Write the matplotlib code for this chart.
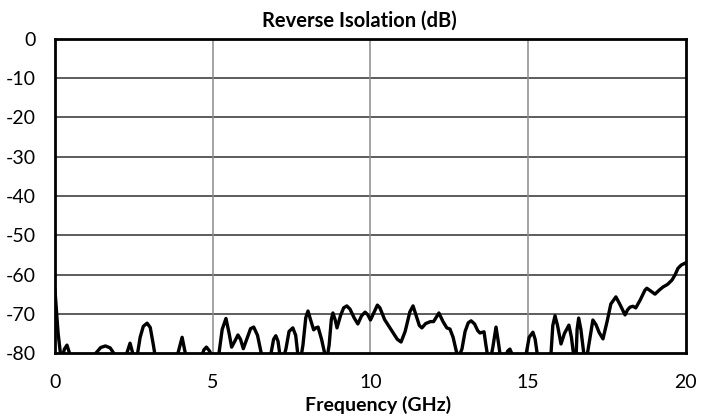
import matplotlib
matplotlib.use("Agg")
import matplotlib.pyplot as plt

plt.rcParams['font.family'] = ['Lato', 'DejaVu Sans']
plt.rcParams['axes.unicode_minus'] = False

# frequency (GHz) and reverse isolation (dB)
freq = [0.0, 0.1, 0.2, 0.3, 0.38, 0.46, 0.6, 1.0, 1.3, 1.45, 1.6, 1.75, 1.9,
        2.1, 2.28, 2.38, 2.48, 2.6, 2.7, 2.8, 2.92, 3.02, 3.12, 3.22, 3.6,
        3.9, 4.03, 4.13, 4.3, 4.6, 4.72, 4.8, 4.9, 5.05, 5.2, 5.3, 5.42,
        5.52, 5.6, 5.7, 5.8, 5.88, 5.97, 6.1, 6.2, 6.3, 6.42, 6.55, 6.7,
        6.85, 6.93, 7.0, 7.07, 7.13, 7.25, 7.32, 7.42, 7.54, 7.63, 7.7, 7.8,
        7.86, 7.95, 8.02, 8.1, 8.2, 8.27, 8.34, 8.45, 8.56, 8.63, 8.69, 8.76,
        8.81, 8.88, 8.94, 9.05, 9.15, 9.25, 9.35, 9.48, 9.6, 9.72, 9.83,
        9.92, 10.0, 10.12, 10.22, 10.3, 10.45, 10.65, 10.85, 10.97, 11.1,
        11.25, 11.35, 11.45, 11.55, 11.63, 11.75, 11.9, 12.0, 12.17, 12.3,
        12.42, 12.52, 12.62, 12.72, 12.8, 12.9, 13.0, 13.1, 13.19, 13.3,
        13.4, 13.47, 13.6, 13.66, 13.72, 13.82, 13.88, 13.98, 14.05, 14.12,
        14.25, 14.35, 14.42, 14.5, 14.7, 14.93, 15.03, 15.15, 15.22, 15.3,
        15.5, 15.72, 15.78, 15.85, 15.93, 16.04, 16.15, 16.29, 16.37, 16.44,
        16.52, 16.55, 16.6, 16.67, 16.76, 16.86, 16.96, 17.05, 17.15, 17.25,
        17.37, 17.5, 17.62, 17.78, 17.9, 18.07, 18.15, 18.23, 18.32, 18.41,
        18.55, 18.7, 18.76, 18.9, 19.02, 19.15, 19.27, 19.42, 19.56, 19.66,
        19.75, 19.85, 20.0]
s12 = [-64, -75, -82, -79, -78, -80, -84, -84, -80, -78.6, -78.2, -78.7, -80.5,
       -84, -80, -77.5, -80.5, -81, -76, -73.2, -72.4, -73.5, -78, -83, -85,
       -80, -76, -80, -84, -82, -79.2, -78.5, -79.5, -82, -80, -74, -71.2,
       -75, -78.5, -77, -75.4, -76.5, -78.9, -76, -73.8, -73.4, -75.5, -80.5, -84,
       -80, -76.5, -75.6, -77, -80.5, -81, -79, -74.5, -73.6, -75.5, -80.5, -81,
       -78, -71, -69.3, -71.5, -74.1, -73.6, -73.4, -76.5, -80.5, -81, -78, -71.5,
       -69.8, -71.5, -73.6, -70.5, -68.5, -68.0, -68.8, -71, -72.6, -70.5, -69.6,
       -70.3, -71.6, -69.5, -67.8, -68.5, -71.5, -74, -76.5, -77.2, -74.5,
       -69.5, -68, -70.5, -73, -73.6, -72.5, -72, -72, -69.8, -72,
       -73.6, -73.9, -76, -79.5, -81, -79, -74.5, -72.3, -71.8, -72.6,
       -74.3, -74.9, -74.6, -78, -81, -81, -78.5, -73.4, -77, -81,
       -81.5, -79.5, -79, -80.5, -85, -80.5, -76, -74.7, -76.5, -81,
       -84, -80.5, -73, -70.5, -73, -77.7, -75, -72.9, -76, -80.5,
       -80.5, -74, -71.1, -74, -80, -81, -76, -71.6, -72.8, -74.8,
       -76.4, -72, -67.5, -65.7, -67.5, -70.3, -69, -68.3, -68.1, -68.5,
       -66.5, -64, -63.5, -64.3, -65, -64, -63.2, -62.5, -61.4, -60,
       -58.4, -57.6, -57]

xticks = [0, 5, 10, 15, 20]
yticks = [0, -10, -20, -30, -40, -50, -60, -70, -80]

fig = plt.figure(figsize=(7.12, 4.18), dpi=100)
ax = fig.add_axes([0.0772, 0.1555, 0.8862, 0.7512])

ax.plot(freq, s12, color='black', lw=2.4, solid_joinstyle='round', zorder=3)

ax.set_xlim(0, 20)
ax.set_ylim(-80, 0)
ax.set_xticks(xticks)
ax.set_yticks(yticks)
ax.tick_params(length=0, labelsize=14)
ax.tick_params(axis='x', pad=15)
ax.tick_params(axis='y', pad=14)

for v in yticks[1:-1]:
    ax.axhline(v, color='#303030', lw=1.1, zorder=1)
for v in xticks[1:-1]:
    ax.axvline(v, color='#8c8c8c', lw=1.1, zorder=1)

for sp in ax.spines.values():
    sp.set_linewidth(2.0)
    sp.set_color('black')

ax.set_title("Reverse Isolation (dB)", fontsize=14.5, fontweight='bold',
             pad=9, x=0.483)
ax.set_xlabel("Frequency (GHz)", fontsize=14, fontweight='bold',
              labelpad=4, x=0.512)

fig.savefig("out.png", dpi=100)
